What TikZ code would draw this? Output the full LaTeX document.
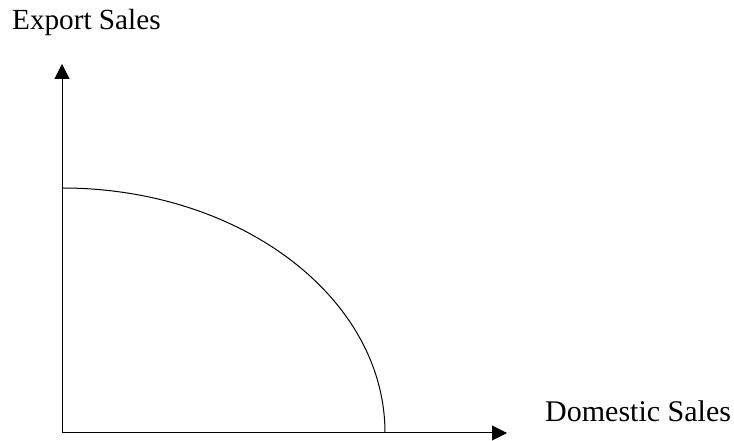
\documentclass[tikz,border=0pt]{standalone}
\usepackage{fontspec}
\setmainfont{Liberation Serif}
\usetikzlibrary{arrows.meta}
\begin{document}
\begin{tikzpicture}[x=1pt,y=1pt,
  axis/.style={line width=1pt,-{Triangle[length=15pt,width=15pt]}},
  curveline/.style={line width=1pt},
  lbl/.style={inner sep=0pt,anchor=base west,font=\fontsize{29.2}{32}\selectfont},
  lbl2/.style={inner sep=0pt,anchor=base west,font=\fontsize{30}{33}\selectfont}]
\useasboundingbox (0,0) rectangle (734,441);
\coordinate (o) at (62,8);
\coordinate (ytip) at (62,377);
\coordinate (xtip) at (507,8);
\coordinate (ystart) at (62,253);
\draw[axis] (o) -- (ytip);
\draw[axis] (o) -- (xtip);
\draw[curveline] (ystart) arc[start angle=90,end angle=0,x radius=323,y radius=245];
\node[lbl] (ey) at (12,411) {Export Sales};
\node[lbl2] (dx) at (545,19) {Domestic Sales};
\end{tikzpicture}
\end{document}
